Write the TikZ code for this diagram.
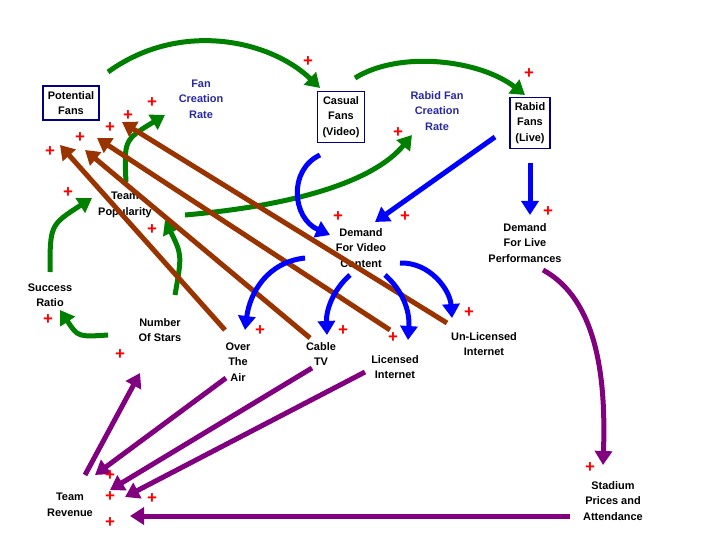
\documentclass[tikz,border=0pt]{standalone}
\usepackage{fontspec}
\setmainfont{Liberation Sans}
\usepackage{tikz}
\usetikzlibrary{arrows.meta}
\definecolor{loopgreen}{RGB}{0,128,0}
\definecolor{loopbrown}{RGB}{153,51,0}
\definecolor{loopblue}{RGB}{0,0,255}
\definecolor{looppurple}{RGB}{128,0,128}
\definecolor{ratetext}{RGB}{40,40,160}
\begin{document}
\begin{tikzpicture}[x=1bp,y=-1bp,>={Triangle[length=14bp,width=17bp]},
    lbl/.style={align=center,font=\fontsize{11}{15.5}\selectfont\bfseries,text=black,inner sep=1pt},
    stock/.style={lbl,draw=blue!50!black,line width=1.6bp,inner sep=5pt},
    rate/.style={lbl,text=ratetext},
    link/.style={->,line width=5bp},
    plus/.style={text=red,font=\fontsize{17}{17}\selectfont\bfseries,inner sep=0pt}] % causal loop diagram
    \useasboundingbox (0,0) rectangle (720,540);
    % stocks, rates and variables
    \node[stock] (pf) at (71,103) {Potential\\Fans};
    \node[rate] (fcr) at (201,99) {Fan\\Creation\\Rate};
    \node[stock] (cf) at (341,117) {Casual\\Fans\\(Video)};
    \node[rate] (rfcr) at (437,111) {Rabid Fan\\Creation\\Rate};
    \node[stock] (rf) at (530,123) {Rabid\\Fans\\(Live)};
    \node[lbl] (tp) at (125,205) {Team\\Popularity};
    \node[lbl] (dvc) at (361,248) {Demand\\For Video\\Content};
    \node[lbl] (dlp) at (525,243) {Demand\\For Live\\Performances};
    \node[lbl] (sr) at (50,295) {Success\\Ratio};
    \node[lbl] (ns) at (160,330) {Number\\Of Stars};
    \node[lbl] (ota) at (238,362) {Over\\The\\Air};
    \node[lbl] (ctv) at (321,354) {Cable\\TV};
    \node[lbl] (li) at (395,367) {Licensed\\Internet};
    \node[lbl] (uli) at (484,344) {Un-Licensed\\Internet};
    \node[lbl] (trev) at (70,505) {Team\\Revenue};
    \node[lbl] (spa) at (613,501) {Stadium\\Prices and\\Attendance};
    
    % green links
    \draw[link,loopgreen] ([shift={(37,-31)}]pf.center) .. controls (180,20) and (270,40) .. ([shift={(-21,-29)}]cf.center);
    \draw[link,loopgreen] ([shift={(14,-39)}]cf.center) .. controls (400,50) and (480,60) .. ([shift={(-5,-28)}]rf.center);
    \draw[link,loopgreen] ([shift={(1,-23)}]tp.center) .. controls (124,140) .. ([shift={(-36,16)}]fcr.center);
    \draw[link,loopgreen] ([shift={(60,10)}]tp.center) .. controls (300,205) and (375,180) .. ([shift={(-25,24)}]rfcr.center);
    \draw[link,loopgreen] ([shift={(0,-23)}]sr.center) .. controls (50,225) .. ([shift={(-33,-7)}]tp.center);
    \draw[link,loopgreen] ([shift={(15,-35)}]ns.center) .. controls (182,255) .. ([shift={(40,15)}]tp.center);
    \draw[link,loopgreen] ([shift={(-52,5)}]ns.center) .. controls (78,337) .. ([shift={(10,15)}]sr.center);
    
    % brown links
    \foreach \a/\da/\db in {ota/{(-13,-32)}/{(-11,42)},ctv/{(-11,-16)}/{(14,47)},li/{(-5,-37)}/{(26,35)},uli/{(-37,-21)}/{(51,19)}}{
    	\draw[link,loopbrown] ([shift=\da]\a.center) -- ([shift=\db]pf.center);}
    
    % blue links
    \draw[link,loopblue] ([shift={(-21,38)}]cf.center) .. controls (288,170) and (292,218) .. ([shift={(-31,-13)}]dvc.center);
    \draw[link,loopblue] ([shift={(-35,14)}]rf.center) -- ([shift={(14,-26)}]dvc.center);
    \draw[link,loopblue] ([shift={(0,40)}]rf.center) -- ([shift={(5,-28)}]dlp.center);
    \draw[link,loopblue] ([shift={(-56,10)}]dvc.center) .. controls (268,262) and (250,292) .. ([shift={(7,-32)}]ota.center);
    \draw[link,loopblue] ([shift={(-11,27)}]dvc.center) .. controls (333,290) and (326,310) .. ([shift={(6,-19)}]ctv.center);
    \draw[link,loopblue] ([shift={(24,27)}]dvc.center) .. controls (402,290) and (410,310) .. ([shift={(13,-27)}]li.center);
    \draw[link,loopblue] ([shift={(39,15)}]dvc.center) .. controls (430,262) and (450,290) .. ([shift={(-32,-26)}]uli.center);
    
    % purple links
    \draw[link,looppurple] ([shift={(18,27)}]dlp.center) .. controls (598,300) and (606,380) .. ([shift={(-10,-36)}]spa.center);
    \draw[link,looppurple] ([shift={(-43,15)}]spa.center) -- ([shift={(60,11)}]trev.center);
    \draw[link,looppurple] ([shift={(15,-30)}]trev.center) -- ([shift={(-20,43)}]ns.center);
    \draw[link,looppurple] ([shift={(-12,16)}]ota.center) -- ([shift={(25,-30)}]trev.center);
    \draw[link,looppurple] ([shift={(-9,14)}]ctv.center) -- ([shift={(40,-15)}]trev.center);
    \draw[link,looppurple] ([shift={(-30,5)}]li.center) -- ([shift={(55,-8)}]trev.center);
    
    % polarity signs
    \foreach \px/\py [count=\k] in {308/62,152/103,128/116,110/128,80/138,50/152,68/193,152/230,48/320,120/355,260/331,343/331,393/338,338/217,405/217,398/133,529/74,548/212,469/313,590/468,110/476,110/497,152/499,110/523}{
    	\node[plus] (p\k) at (\px,\py) {+};}
\end{tikzpicture}
\end{document}
